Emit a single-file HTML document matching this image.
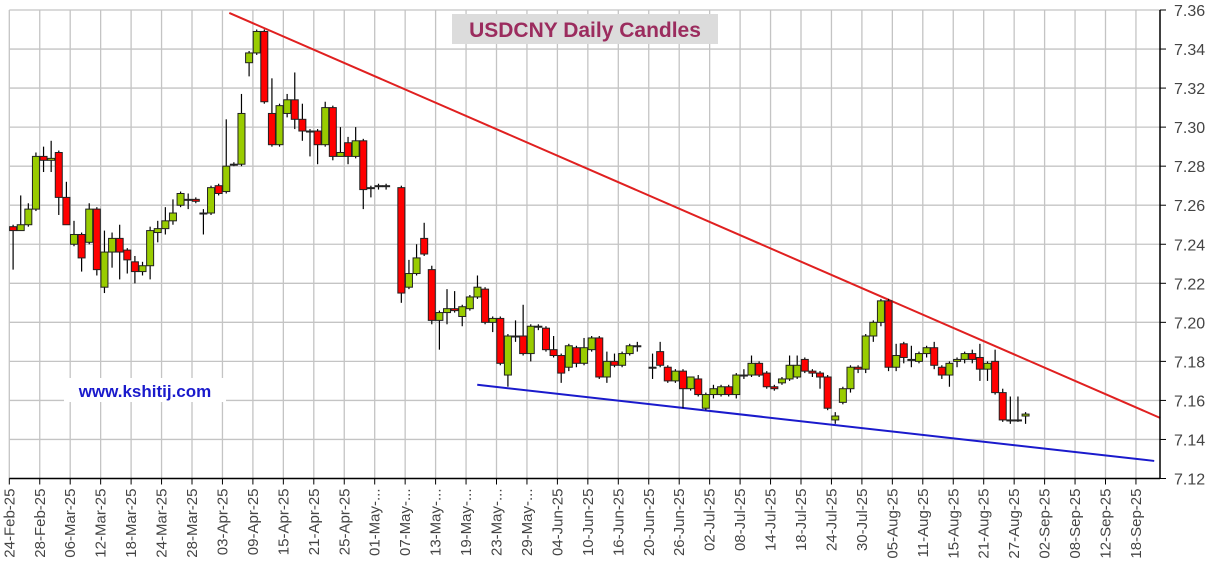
<!DOCTYPE html>
<html><head><meta charset="utf-8"><style>
body{margin:0;background:#fff;}
svg{display:block;font-family:"Liberation Sans",sans-serif;}
</style></head><body>
<svg id="chart" width="1211" height="571" viewBox="0 0 1211 571" xmlns="http://www.w3.org/2000/svg">
<g id="grid"></g>
<g id="lines"></g>
<g id="candles"></g>
<g id="axes"></g>
<rect x="452" y="14" width="266" height="30" fill="#dcdcdc"/>
<text x="585" y="37" text-anchor="middle" font-size="21" font-weight="bold" fill="#9b2c5e">USDCNY Daily Candles</text>
<rect x="64" y="378" width="162" height="24" fill="#fff"/>
<text x="145" y="397" text-anchor="middle" font-size="17" font-weight="bold" fill="#1a1acc">www.kshitij.com</text>
</svg>
<script>
const xLabels=["24-Feb-25","28-Feb-25","06-Mar-25","12-Mar-25","18-Mar-25","24-Mar-25","28-Mar-25","03-Apr-25","09-Apr-25","15-Apr-25","21-Apr-25","25-Apr-25","01-May-...","07-May-...","13-May-...","19-May-...","23-May-...","29-May-...","04-Jun-25","10-Jun-25","16-Jun-25","20-Jun-25","26-Jun-25","02-Jul-25","08-Jul-25","14-Jul-25","18-Jul-25","24-Jul-25","30-Jul-25","05-Aug-25","11-Aug-25","15-Aug-25","21-Aug-25","27-Aug-25","02-Sep-25","08-Sep-25","12-Sep-25","18-Sep-25"];
const yTicks=[7.12,7.14,7.16,7.18,7.20,7.22,7.24,7.26,7.28,7.30,7.32,7.34,7.36];
const dayIdx=[0,1,2,3,4,5,6,7,8,9,10,11,12,13,14,15,16,17,18,19,20,21,22,23,24,25,26,27,28,29,30,31,32,33,34,35,36,37,38,39,40,41,42,43,44,45,46,47,48,49,51,52,53,54,55,56,57,58,59,60,61,62,63,64,65,66,67,68,69,70,71,72,73,74,75,76,77,78,79,80,81,82,84,85,86,87,88,89,90,91,92,93,94,95,96,97,98,99,100,101,102,103,104,105,106,107,108,109,110,111,112,113,114,115,116,117,118,119,120,121,122,123,124,125,126,127,128,129,130,131,132,133];
const opens=[7.249,7.247,7.250,7.258,7.285,7.283,7.287,7.264,7.240,7.245,7.241,7.258,7.218,7.236,7.243,7.237,7.231,7.226,7.229,7.246,7.248,7.252,7.260,7.263,7.263,7.256,7.256,7.270,7.267,7.281,7.281,7.333,7.338,7.349,7.307,7.291,7.307,7.314,7.304,7.298,7.298,7.291,7.310,7.285,7.292,7.285,7.293,7.269,7.270,7.270,7.269,7.218,7.225,7.243,7.227,7.201,7.205,7.207,7.203,7.207,7.213,7.217,7.200,7.202,7.173,7.193,7.193,7.184,7.198,7.197,7.186,7.183,7.177,7.187,7.179,7.186,7.192,7.172,7.180,7.178,7.184,7.188,7.177,7.185,7.177,7.170,7.175,7.166,7.171,7.156,7.163,7.163,7.167,7.163,7.173,7.173,7.179,7.174,7.167,7.169,7.171,7.172,7.181,7.175,7.174,7.172,7.150,7.159,7.166,7.177,7.176,7.193,7.200,7.211,7.177,7.189,7.181,7.180,7.184,7.187,7.177,7.173,7.180,7.181,7.184,7.182,7.176,7.180,7.164,7.150,7.150,7.152];
const closes=[7.247,7.250,7.258,7.285,7.283,7.284,7.264,7.250,7.245,7.233,7.258,7.227,7.236,7.243,7.236,7.232,7.226,7.229,7.247,7.248,7.252,7.256,7.266,7.263,7.262,7.256,7.269,7.266,7.280,7.281,7.307,7.338,7.349,7.313,7.291,7.311,7.314,7.304,7.298,7.298,7.291,7.310,7.285,7.287,7.285,7.293,7.268,7.269,7.270,7.270,7.215,7.225,7.233,7.235,7.201,7.205,7.207,7.206,7.208,7.213,7.218,7.200,7.202,7.179,7.193,7.193,7.184,7.198,7.198,7.186,7.183,7.174,7.188,7.179,7.187,7.192,7.172,7.180,7.178,7.184,7.188,7.188,7.177,7.178,7.170,7.175,7.166,7.172,7.163,7.163,7.166,7.167,7.163,7.173,7.173,7.179,7.173,7.167,7.166,7.171,7.178,7.178,7.175,7.174,7.172,7.156,7.152,7.166,7.177,7.176,7.193,7.200,7.211,7.177,7.183,7.182,7.181,7.184,7.187,7.178,7.173,7.179,7.181,7.184,7.181,7.176,7.179,7.164,7.150,7.150,7.150,7.153];
const highs=[7.250,7.265,7.261,7.287,7.290,7.293,7.288,7.272,7.252,7.246,7.261,7.259,7.247,7.246,7.250,7.238,7.234,7.231,7.249,7.252,7.259,7.263,7.267,7.266,7.264,7.258,7.270,7.271,7.304,7.282,7.317,7.339,7.350,7.350,7.325,7.312,7.317,7.328,7.312,7.299,7.299,7.313,7.311,7.300,7.295,7.300,7.294,7.270,7.271,7.271,7.270,7.232,7.240,7.251,7.229,7.206,7.217,7.216,7.209,7.214,7.224,7.218,7.203,7.203,7.194,7.201,7.209,7.199,7.199,7.198,7.193,7.184,7.189,7.188,7.192,7.193,7.193,7.185,7.184,7.185,7.189,7.190,7.184,7.190,7.178,7.176,7.176,7.167,7.173,7.164,7.168,7.168,7.168,7.174,7.176,7.183,7.180,7.175,7.168,7.172,7.183,7.183,7.182,7.176,7.175,7.173,7.154,7.167,7.178,7.178,7.194,7.201,7.212,7.212,7.189,7.190,7.188,7.185,7.188,7.190,7.178,7.180,7.182,7.185,7.186,7.189,7.180,7.186,7.166,7.162,7.162,7.154];
const lows=[7.227,7.247,7.249,7.257,7.277,7.277,7.255,7.250,7.239,7.226,7.240,7.224,7.215,7.228,7.222,7.225,7.220,7.224,7.222,7.241,7.245,7.250,7.259,7.258,7.261,7.245,7.255,7.265,7.266,7.280,7.280,7.326,7.337,7.312,7.290,7.290,7.305,7.299,7.293,7.285,7.281,7.290,7.283,7.285,7.281,7.284,7.258,7.264,7.268,7.268,7.210,7.217,7.224,7.234,7.199,7.186,7.199,7.205,7.198,7.206,7.212,7.199,7.195,7.178,7.167,7.190,7.183,7.180,7.196,7.185,7.182,7.169,7.175,7.177,7.178,7.185,7.171,7.169,7.177,7.177,7.183,7.185,7.171,7.177,7.169,7.169,7.156,7.165,7.162,7.155,7.161,7.162,7.162,7.161,7.171,7.172,7.172,7.166,7.165,7.168,7.170,7.171,7.174,7.172,7.166,7.155,7.148,7.158,7.164,7.174,7.174,7.190,7.198,7.175,7.175,7.179,7.177,7.179,7.182,7.176,7.171,7.167,7.177,7.179,7.179,7.170,7.170,7.163,7.149,7.148,7.149,7.148,7.148];
const resistance=[[28.4,7.3585],[150.7,7.151]];
const support=[[60.97,7.168],[149.9,7.129]];

const NS="http://www.w3.org/2000/svg";
const L=9.3,R=1160,T=10,B=478.5,step=30.45,dayW=step/4;
function xDay(d){return L+3.8+d*dayW;}
function y(v){return B-(v-7.12)/(0.24)*(B-T);}
function mk(tag,attrs,parent){const e=document.createElementNS(NS,tag);for(const k in attrs)e.setAttribute(k,attrs[k]);parent.appendChild(e);return e;}
const grid=document.getElementById('grid'),axes=document.getElementById('axes'),cg=document.getElementById('candles'),lg=document.getElementById('lines');
yTicks.forEach(t=>{
  const gl=mk('line',{x1:L,x2:R,y1:y(t),y2:y(t),stroke:'#c4c4c4','stroke-width':1.3},grid);
  
  
  const tk=mk('line',{x1:R,x2:R+6,y1:y(t),y2:y(t),stroke:'#000','stroke-width':1},axes);
  
  
  const tx=mk('text',{x:R+14,y:y(t)+6,'font-size':16,fill:'#444'},axes);
  tx.textContent=t.toFixed(2);
  
  
});
xLabels.forEach((s,i)=>{
  const x=L+i*step;
  const gl=mk('line',{x1:x,x2:x,y1:T,y2:B,stroke:'#c4c4c4','stroke-width':1.3},grid);
  
  
  const tk=mk('line',{x1:x,x2:x,y1:B,y2:B+6,stroke:'#000','stroke-width':1},axes);
  
  
  const tx=mk('text',{x:0,y:0,'font-size':15,fill:'#444','text-anchor':'end',transform:`translate(${x+5},${B+10}) rotate(-90)`},axes);
  tx.textContent=s;
  
  
});
const ax1=mk('line',{x1:L,x2:R,y1:B,y2:B,stroke:'#000','stroke-width':1.5},axes);


const ax2=mk('line',{x1:R,x2:R,y1:T,y2:B,stroke:'#000','stroke-width':1.5},axes);


const r=mk('line',{x1:xDay(resistance[0][0]),y1:y(resistance[0][1]),x2:xDay(resistance[1][0]),y2:y(resistance[1][1]),stroke:'#e02020','stroke-width':2},lg);


const s=mk('line',{x1:xDay(support[0][0]),y1:y(support[0][1]),x2:xDay(support[1][0]),y2:y(support[1][1]),stroke:'#1a1acc','stroke-width':2},lg);


dayIdx.forEach((d,i)=>{
  const x=xDay(d),o=opens[i],c=closes[i];
  const w=mk('line',{x1:x,x2:x,y1:y(highs[i]),y2:y(lows[i]),stroke:'#000','stroke-width':1.2},cg);
  
  
  const top=y(Math.max(o,c)),bot=y(Math.min(o,c));
  const b=mk('rect',{x:x-3.5,y:top,width:7,height:Math.max(1,bot-top),fill:c>=o?'#99cc00':'#ff0000',stroke:'#222','stroke-width':1},cg);
  
  
});
</script>
</body></html>
